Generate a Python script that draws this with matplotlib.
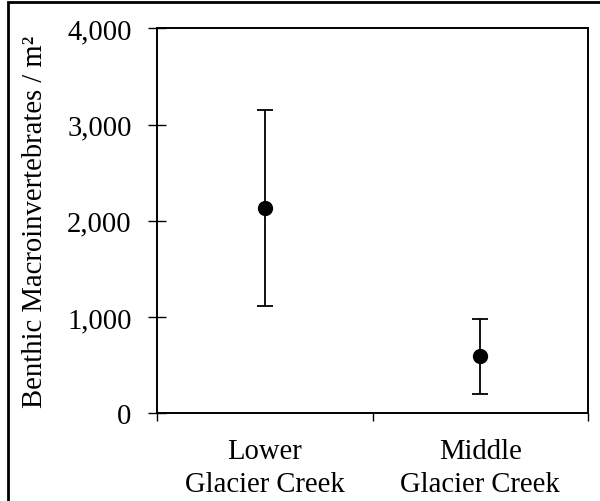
import matplotlib.pyplot as plt
from matplotlib.patches import Rectangle

plt.rcParams['font.family'] = ['Liberation Serif', 'DejaVu Serif']

# Densidad media de macroinvertebrados bentónicos con su desviación
sites = ['Lower\nGlacier Creek', 'Middle\nGlacier Creek']
means = [2133, 592]
errors = [1015, 390]
y_ticks = [0, 1000, 2000, 3000, 4000]

fig = plt.figure(figsize=(6, 5.02), dpi=100)
ax = fig.add_axes([0.2617, 0.1747, 0.7183, 0.7669])

x_pos = [i + 0.5 for i in range(len(sites))]
ax.errorbar(x_pos, means, yerr=errors, fmt='o', color='black',
            markersize=10, elinewidth=1.3, capsize=6, capthick=1.3)

ax.set_xlim(0, len(sites))
ax.set_ylim(0, 4000)
ax.set_yticks(y_ticks)
ax.set_yticklabels([f'{v:,}' for v in y_ticks])
ax.set_xticks(range(len(sites) + 1))
ax.set_xticklabels([])
ax.set_xticks(x_pos, minor=True)
ax.set_xticklabels(sites, minor=True, linespacing=1.35)

ax.tick_params(axis='y', direction='inout', length=12.5, width=1,
               labelsize=20.6, pad=12)
ax.tick_params(axis='x', which='major', direction='out', length=6, width=1)
ax.tick_params(axis='x', which='minor', length=0, labelsize=20.6, pad=18)
ax.set_ylabel('Benthic Macroinvertebrates / m²', fontsize=20.6, labelpad=14)

for s in ax.spines.values():
    s.set_linewidth(1.4)

# Marco alrededor de toda la figura
fig.patches.append(Rectangle((7.5 / 600, -0.02), 1.0, (499.5 / 502) + 0.02,
                             transform=fig.transFigure, fill=False,
                             edgecolor='black', linewidth=2, clip_on=False))

fig.savefig('out.png', dpi=100)
